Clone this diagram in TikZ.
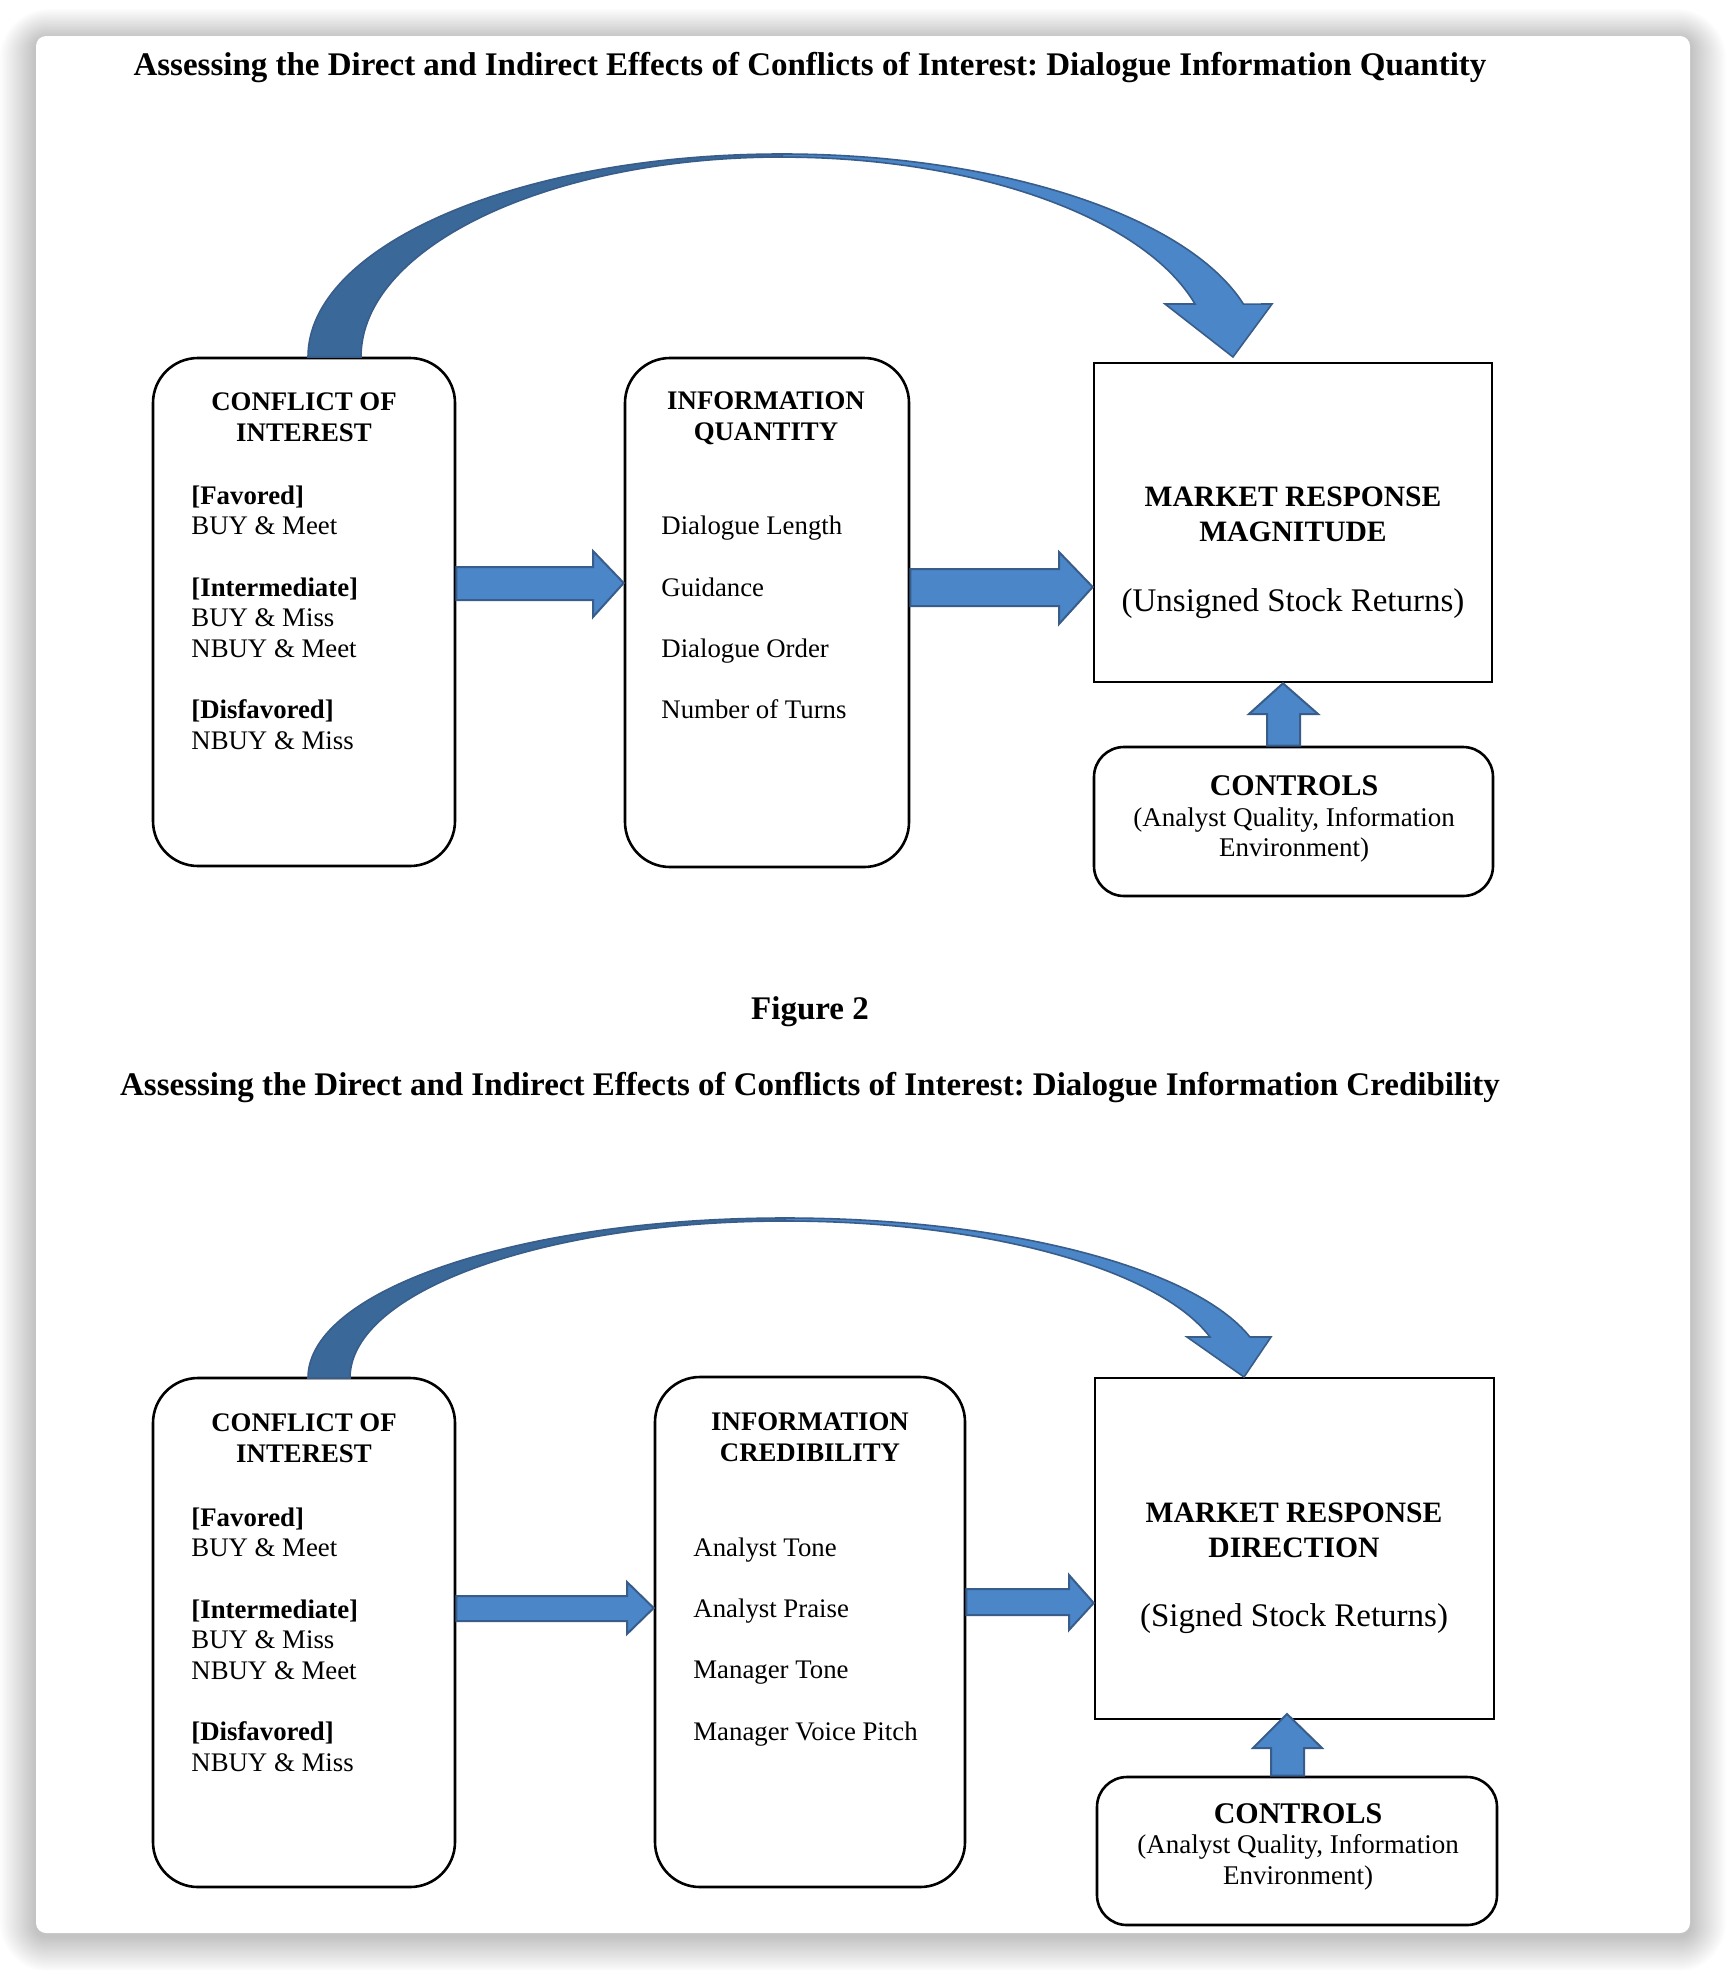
\documentclass[tikz,border=0pt]{standalone}
\usepackage{fontspec}
\setmainfont{Liberation Serif}
\usetikzlibrary{calc}
\definecolor{afill}{RGB}{74,134,200}
\definecolor{aline}{RGB}{56,93,138}
\definecolor{adark}{RGB}{58,104,152}
\frenchspacing
\begin{document}
\begin{tikzpicture}[x=0.5pt,y=-0.5pt,
  rbox/.style={draw=black, line width=1.3pt, fill=white, rounded corners=22.5pt, inner sep=0pt},
  sbox/.style={draw=black, line width=1.3pt, fill=white, inner sep=0pt},
  cbox/.style={draw=black, line width=1.3pt, fill=white, rounded corners=15pt, inner sep=0pt},
  blk/.style={fill=afill, draw=aline, line width=1pt, line join=miter},
  band/.style={fill=adark, draw=aline, line width=0.8pt},
  txt/.style={inner sep=0pt, anchor=base west, font=\fontsize{13.4}{16}\selectfont},
  btxt/.style={inner sep=0pt, anchor=base west, font=\fontsize{13.4}{16}\selectfont\bfseries},
  hdr/.style={inner sep=0pt, anchor=base, font=\fontsize{13.4}{16}\selectfont\bfseries},
  mhdr/.style={inner sep=0pt, anchor=base, font=\fontsize{14.8}{17}\selectfont\bfseries},
  mpar/.style={inner sep=0pt, anchor=base, font=\fontsize{16.5}{19}\selectfont},
  chdr/.style={inner sep=0pt, anchor=base, font=\fontsize{15}{18}\selectfont\bfseries},
  csub/.style={inner sep=0pt, anchor=base, font=\fontsize{13.5}{16}\selectfont},
  ttl/.style={inner sep=0pt, anchor=base, font=\fontsize{16.5}{19}\selectfont\bfseries},
  fig/.style={inner sep=0pt, anchor=base, font=\fontsize{16.5}{19}\selectfont\bfseries}
]
\useasboundingbox (0,0) rectangle (1726,1970);
\fill[white] (0,0) rectangle (1726,1970);
% shadow
\foreach \i in {1,...,20}{
  \fill[black, opacity=0.013, rounded corners=5pt+\i*1pt]
    (36-\i*1.8, 36-\i*1.5+3) rectangle (1690+\i*1.8, 1933+\i*1.8+3);
}
\fill[white, rounded corners=5pt] (36,36) rectangle (1690,1933);

% ---------- Figure 1 ----------
\node[ttl] (t1) at (810,75) {Assessing the Direct and Indirect Effects of Conflicts of Interest: Dialogue Information Quantity};

\node[rbox, minimum width=151pt, minimum height=254pt] (c1) at (304,612) {};
\node[rbox, minimum width=142pt, minimum height=254.5pt] (q1) at (767,612.5) {};
\node[sbox, minimum width=199pt, minimum height=159.5pt] (m1) at (1293,522.5) {};
\node[cbox, minimum width=199.5pt, minimum height=74.5pt] (k1) at (1293.5,821.5) {};

\node[hdr] (c1h1) at (304,410) {CONFLICT OF};
\node[hdr] (c1h2) at (304,441) {INTEREST};
\node[btxt] (c1a) at (191,504) {[Favored]};
\node[txt]  (c1b) at (191,534.7) {BUY \& Meet};
\node[btxt] (c1c) at (191,596.1) {[Intermediate]};
\node[txt]  (c1d) at (191,626.8) {BUY \& Miss};
\node[txt]  (c1e) at (191,657.5) {NBUY \& Meet};
\node[btxt] (c1f) at (191,718.9) {[Disfavored]};
\node[txt]  (c1g) at (191,749.6) {NBUY \& Miss};

\node[hdr] (q1h1) at (766,409) {INFORMATION};
\node[hdr] (q1h2) at (766,440) {QUANTITY};
\node[txt] (q1a) at (661,534.7) {Dialogue Length};
\node[txt] (q1b) at (661,596.1) {Guidance};
\node[txt] (q1c) at (661,657.5) {Dialogue Order};
\node[txt] (q1d) at (661,718.9) {Number of Turns};

\node[mhdr] (m1h1) at (1293,506) {MARKET RESPONSE};
\node[mhdr] (m1h2) at (1293,541) {MAGNITUDE};
\node[mpar] (m1p) at (1293,611) {(Unsigned Stock Returns)};

\node[chdr] (k1h) at (1294,795) {CONTROLS};
\node[csub] (k1a) at (1294,826) {(Analyst Quality, Information};
\node[csub] (k1b) at (1294,856) {Environment)};

% straight arrows
\draw[blk] (c1.east |- 0,567) -- (593,567) -- (593,551) -- (q1.west |- 0,583)
  -- (593,617) -- (593,600) -- (c1.east |- 0,600) -- cycle;
\draw[blk] (q1.east |- 0,569) -- (1059,569) -- (1059,552) -- (m1.west |- 0,587)
  -- (1059,624) -- (1059,606) -- (q1.east |- 0,606) -- cycle;
\draw[blk] (1267,0 |- k1.north) -- (1267,714) -- (1249,714) -- (1283,0 |- m1.south)
  -- (1318,714) -- (1300,714) -- (1300,0 |- k1.north) -- cycle;

% curved arrow
\draw[band] (308,357) arc[start angle=180, end angle=270, x radius=474, y radius=203]
  -- (782,157) arc[start angle=270, end angle=180, x radius=421, y radius=200] -- cycle;
\draw[blk, line width=0.8pt] (782,154) arc[start angle=270, end angle=344.9, x radius=478, y radius=203]
  -- (1272,304) -- (1233,357) -- (1165,304) -- (1195,304)
  arc[start angle=344.6, end angle=270, x radius=428, y radius=200] -- cycle;

% ---------- Figure 2 ----------
\node[fig] (f2) at (810,1019) {Figure 2};
\node[ttl] (t2) at (810,1095) {Assessing the Direct and Indirect Effects of Conflicts of Interest: Dialogue Information Credibility};

\node[rbox, minimum width=151pt, minimum height=254.5pt] (c2) at (304,1632.5) {};
\node[rbox, minimum width=155pt, minimum height=255pt] (q2) at (810,1632) {};
\node[sbox, minimum width=199.5pt, minimum height=170.5pt] (m2) at (1294.5,1548.5) {};
\node[cbox, minimum width=200pt, minimum height=74pt] (k2) at (1297,1851) {};

\node[hdr] (c2h1) at (304,1431) {CONFLICT OF};
\node[hdr] (c2h2) at (304,1462) {INTEREST};
\node[btxt] (c2a) at (191,1526) {[Favored]};
\node[txt]  (c2b) at (191,1556.7) {BUY \& Meet};
\node[btxt] (c2c) at (191,1618.1) {[Intermediate]};
\node[txt]  (c2d) at (191,1648.8) {BUY \& Miss};
\node[txt]  (c2e) at (191,1679.5) {NBUY \& Meet};
\node[btxt] (c2f) at (191,1740.9) {[Disfavored]};
\node[txt]  (c2g) at (191,1771.6) {NBUY \& Miss};

\node[hdr] (q2h1) at (810,1430) {INFORMATION};
\node[hdr] (q2h2) at (810,1461) {CREDIBILITY};
\node[txt] (q2a) at (693,1556) {Analyst Tone};
\node[txt] (q2b) at (693,1617) {Analyst Praise};
\node[txt] (q2c) at (693,1678.5) {Manager Tone};
\node[txt] (q2d) at (693,1740) {Manager Voice Pitch};

\node[mhdr] (m2h1) at (1294,1522) {MARKET RESPONSE};
\node[mhdr] (m2h2) at (1294,1557) {DIRECTION};
\node[mpar] (m2p) at (1294,1626) {(Signed Stock Returns)};

\node[chdr] (k2h) at (1298,1823) {CONTROLS};
\node[csub] (k2a) at (1298,1853) {(Analyst Quality, Information};
\node[csub] (k2b) at (1298,1884) {Environment)};

\draw[blk] (c2.east |- 0,1596) -- (627,1596) -- (627,1582) -- (q2.west |- 0,1608)
  -- (627,1634) -- (627,1621) -- (c2.east |- 0,1621) -- cycle;
\draw[blk] (q2.east |- 0,1589) -- (1069,1589) -- (1069,1575) -- (m2.west |- 0,1603)
  -- (1069,1630) -- (1069,1615) -- (q2.east |- 0,1615) -- cycle;
\draw[blk] (1271,0 |- k2.north) -- (1271,1748) -- (1253,1748) -- (1287,1714)
  -- (1322,1748) -- (1304,1748) -- (1304,0 |- k2.north) -- cycle;

\draw[band] (308,1378) arc[start angle=180, end angle=270, x radius=477, y radius=160]
  -- (785,1221) arc[start angle=270, end angle=180, x radius=435, y radius=157] -- cycle;
\draw[blk, line width=0.8pt] (785,1218) arc[start angle=270, end angle=345.15, x radius=481, y radius=160]
  -- (1271,1337) -- (1244,1377) -- (1187,1337) -- (1210,1337)
  arc[start angle=344.86, end angle=270, x radius=440, y radius=157] -- cycle;
\end{tikzpicture}
\end{document}
